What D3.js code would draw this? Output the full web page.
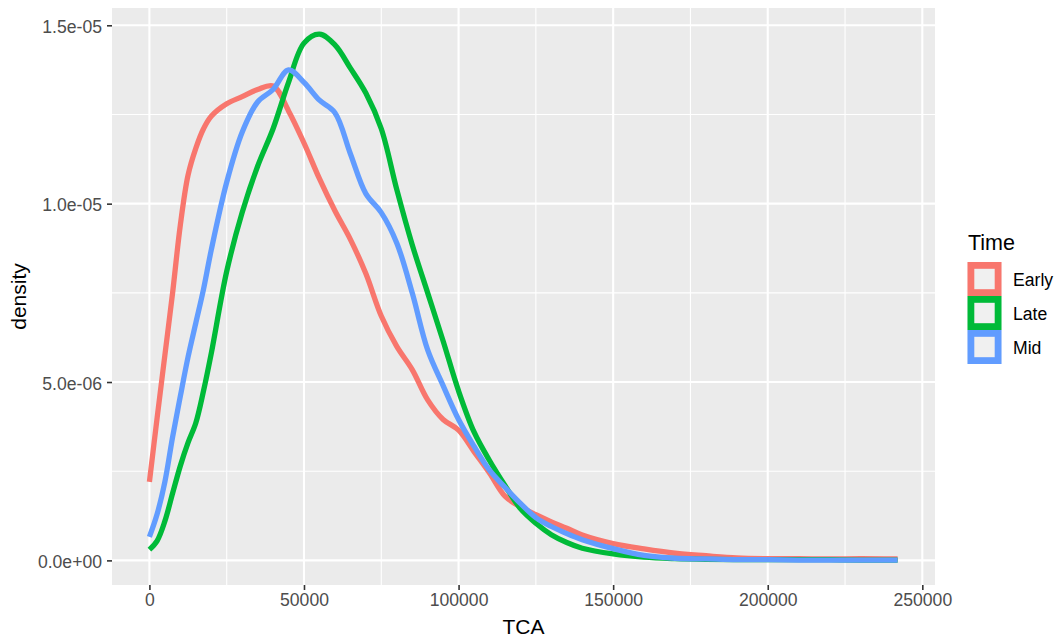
<!DOCTYPE html>
<html>
<head>
<meta charset="utf-8">
<script src="https://cdn.jsdelivr.net/npm/d3@7"></script>
<style>
  html, body { margin: 0; padding: 0; background: #fff; }
  svg { display: block; font-family: "Liberation Sans", Arial, sans-serif; }
</style>
</head>
<body>
<svg id="chart" width="1057" height="640"></svg>
<script>
// TCA grid (thousands)
const tca = [0, 2.5, 5, 7.5, 10, 12.5, 15, 17.5, 20, 25, 30, 35, 40, 45, 50, 55, 60, 65, 70, 75, 80, 85, 90, 95, 100, 105, 110, 115, 120, 125, 130, 135, 140, 150, 160, 170, 180, 190, 200, 210, 220, 230, 242];
// densities in units of 1e-6
const early = [2.2, 4.0, 5.75, 7.5, 9.4, 10.8, 11.55, 12.1, 12.45, 12.8, 13.0, 13.2, 13.3, 12.6, 11.7, 10.7, 9.8, 9.0, 8.04, 6.85, 6.0, 5.35, 4.5, 3.95, 3.65, 3.05, 2.45, 1.8, 1.5, 1.28, 1.08, 0.9, 0.71, 0.47, 0.32, 0.2, 0.13, 0.07, 0.05, 0.05, 0.04, 0.05, 0.04];
const late = [0.3, 0.55, 1.1, 1.88, 2.65, 3.3, 3.85, 4.75, 5.8, 8.1, 9.75, 11.05, 12.1, 13.4, 14.5, 14.75, 14.45, 13.8, 13.1, 12.1, 10.4, 8.85, 7.5, 6.15, 4.75, 3.6, 2.8, 2.1, 1.45, 1.04, 0.72, 0.5, 0.34, 0.18, 0.09, 0.05, 0.03, 0.02, 0.02, 0.02, 0.02, 0.01, 0.01];
const mid = [0.66, 1.3, 2.2, 3.46, 4.6, 5.7, 6.65, 7.6, 8.7, 10.6, 12.0, 12.85, 13.2, 13.75, 13.4, 12.9, 12.55, 11.4, 10.28, 9.75, 8.9, 7.5, 5.9, 4.9, 3.95, 3.2, 2.53, 2.05, 1.6, 1.2, 0.95, 0.75, 0.58, 0.33, 0.14, 0.06, 0.04, 0.02, 0.02, 0.01, 0.01, 0.01, 0.01];

const seriesNames = ["Early", "Late", "Mid"];
const seriesColors = ["#F8766D", "#00BA38", "#619CFF"];
const xTicks = [0, 50000, 100000, 150000, 200000, 250000];
const xMinor = [25000, 75000, 125000, 175000, 225000];
const yTicks = [0, 5e-6, 1e-5, 1.5e-5];
const yTickLabels = ["0.0e+00", "5.0e-06", "1.0e-05", "1.5e-05"];
const yMinor = [2.5e-6, 7.5e-6, 1.25e-5];

const svg = d3.select("#chart");
const panel = { left: 112, right: 935, top: 8, bottom: 585 };

const x = d3.scaleLinear().domain([-12100, 254100]).range([panel.left, panel.right]);
const y = d3.scaleLinear().domain([-6.9e-7, 1.5485e-5]).range([panel.bottom, panel.top]);

svg.append("rect").attr("x", panel.left).attr("y", panel.top)
  .attr("width", panel.right - panel.left).attr("height", panel.bottom - panel.top)
  .attr("fill", "#EBEBEB");

const g = svg.append("g");
// minor grid
g.selectAll(".xminor").data(xMinor).join("line")
  .attr("x1", d => x(d)).attr("x2", d => x(d)).attr("y1", panel.top).attr("y2", panel.bottom)
  .attr("stroke", "#fff").attr("stroke-width", 1.1);
g.selectAll(".yminor").data(yMinor).join("line")
  .attr("y1", d => y(d)).attr("y2", d => y(d)).attr("x1", panel.left).attr("x2", panel.right)
  .attr("stroke", "#fff").attr("stroke-width", 1.1);
// major grid
g.selectAll(".xmajor").data(xTicks).join("line")
  .attr("x1", d => x(d)).attr("x2", d => x(d)).attr("y1", panel.top).attr("y2", panel.bottom)
  .attr("stroke", "#fff").attr("stroke-width", 2.1);
g.selectAll(".ymajor").data(yTicks).join("line")
  .attr("y1", d => y(d)).attr("y2", d => y(d)).attr("x1", panel.left).attr("x2", panel.right)
  .attr("stroke", "#fff").attr("stroke-width", 2.1);

// density lines
const seriesData = [early, late, mid];
const line = d3.line()
  .x(d => x(d[0] * 1000))
  .y(d => y(d[1] * 1e-6))
  .curve(d3.curveCatmullRom.alpha(0.5));
seriesData.forEach((vals, i) => {
  svg.append("path")
    .datum(tca.map((t, j) => [t, vals[j]]))
    .attr("d", line)
    .attr("fill", "none")
    .attr("stroke", seriesColors[i])
    .attr("stroke-width", 5.3)
    .attr("stroke-linejoin", "round")
    .attr("stroke-linecap", "butt");
});

// axes
const xAxis = d3.axisBottom(x).tickValues(xTicks).tickSize(5).tickPadding(4).tickFormat(d3.format("d"));
const xg = svg.append("g").attr("transform", `translate(0,${panel.bottom})`).call(xAxis);
xg.select(".domain").remove();
xg.selectAll(".tick line").attr("stroke", "#333").attr("stroke-width", 1.6);
xg.selectAll(".tick text").attr("fill", "#4D4D4D").attr("font-size", 17.6)
  .attr("font-family", "Liberation Sans, Arial, sans-serif");

const yAxis = d3.axisLeft(y).tickValues(yTicks).tickSize(5).tickPadding(5)
  .tickFormat((d, i) => yTickLabels[i]);
const yg = svg.append("g").attr("transform", `translate(${panel.left},0)`).call(yAxis);
yg.select(".domain").remove();
yg.selectAll(".tick line").attr("stroke", "#333").attr("stroke-width", 1.6);
yg.selectAll(".tick text").attr("fill", "#4D4D4D").attr("font-size", 17.6)
  .attr("font-family", "Liberation Sans, Arial, sans-serif").attr("dy", "0.4em");

// axis titles
svg.append("text").attr("x", (panel.left + panel.right) / 2).attr("y", 634)
  .attr("text-anchor", "middle").attr("font-size", 21).attr("fill", "#000").text("TCA");
svg.append("text").attr("transform", `translate(26,${(panel.top + panel.bottom) / 2}) rotate(-90)`)
  .attr("text-anchor", "middle").attr("font-size", 21).attr("fill", "#000").text("density");

// legend
const lg = svg.append("g");
lg.append("text").attr("x", 968).attr("y", 250).attr("font-size", 21.5).attr("fill", "#000").text("Time");
const keySize = 34;
seriesNames.forEach((name, i) => {
  const ky = 262 + i * keySize;
  lg.append("rect").attr("x", 967.5).attr("y", ky).attr("width", keySize).attr("height", keySize)
    .attr("fill", "#F2F2F2");
  lg.append("rect").attr("x", 967.5 + 3.4).attr("y", ky + 3.4)
    .attr("width", keySize - 6.8).attr("height", keySize - 6.8)
    .attr("fill", "#EBEBEB").attr("fill-opacity", 0.3)
    .attr("stroke", seriesColors[i]).attr("stroke-width", 6.8);
  lg.append("text").attr("x", 1013).attr("y", ky + keySize / 2 + 1).attr("dy", "0.36em")
    .attr("font-size", 17.6).attr("fill", "#000").text(name);
});
</script>
</body>
</html>
